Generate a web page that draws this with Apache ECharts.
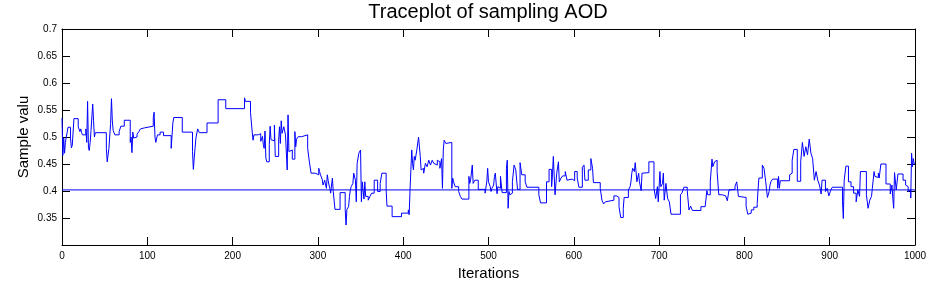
<!DOCTYPE html>
<html>
<head>
<meta charset="utf-8">
<script src="https://cdn.jsdelivr.net/npm/echarts@6/dist/echarts.min.js"></script>
<style>
html,body{margin:0;padding:0;background:#fff;overflow:hidden;}
#chart{width:941px;height:282px;}
</style>
</head>
<body>
<div id="chart"></div>
<script>
// Trace of sampled AOD values: [iteration, value] at each change point (held until next point)
const trace = [
[0,0.535],[1,0.466],[2,0.498],[3,0.47],[4,0.49],[5,0.5],[6,0.508],[7,0.518],[10,0.498],[11,0.48],[12,0.484],[14,0.534],[19,0.519],[21,0.51],[22,0.515],[23,0.508],[24,0.504],[28,0.515],[29,0.49],[30,0.566],[31,0.48],[32,0.475],[33,0.49],[34,0.512],[36,0.561],[37,0.53],[38,0.5],[39,0.508],[52,0.479],[53,0.454],[55,0.479],[57,0.525],[58,0.571],[59,0.53],[60,0.512],[62,0.504],[67,0.51],[69,0.52],[73,0.531],[80,0.49],[81,0.5],[82,0.471],[83,0.509],[84,0.498],[86,0.5],[88,0.505],[90,0.51],[92,0.515],[94,0.517],[97,0.52],[107,0.536],[108,0.546],[109,0.5],[110,0.49],[111,0.498],[112,0.504],[115,0.509],[119,0.5025],[128,0.479],[130,0.526],[131,0.536],[141,0.509],[153,0.473],[154,0.44],[155,0.461],[156,0.48],[157,0.498],[159,0.515],[161,0.508],[170,0.526],[183,0.569],[192,0.5525],[214,0.5725],[215,0.566],[221,0.545],[223,0.509],[224,0.494],[225,0.504],[230,0.506],[233,0.492],[235,0.501],[236,0.486],[237,0.479],[238,0.511],[239,0.461],[240,0.454],[243,0.486],[244,0.52],[245,0.495],[246,0.493],
[249,0.522],[250,0.464],[254,0.4945],[255,0.519],[256,0.488],[257,0.53],[258,0.507],[260,0.519],[262,0.504],[264,0.439],[265,0.541],[266,0.473],[268,0.476],[270,0.459],[273,0.51],[274,0.482],[275,0.496],[277,0.5006],[281,0.504],[288,0.479],[290,0.454],[292,0.433],[297,0.436],[299,0.43],[301,0.442],[302,0.436],[303,0.43],[305,0.422],[306,0.411],[308,0.42],[309,0.411],[310,0.405],[311,0.43],[312,0.42],[313,0.411],[314,0.405],[315,0.396],[316,0.411],[317,0.424],[318,0.399],[320,0.366],[326,0.397],[332,0.366],[333,0.337],[334,0.366],[336,0.371],[337,0.39],[338,0.402],[339,0.408],[341,0.414],[342,0.433],[344,0.42],[345,0.38],[346,0.451],[348,0.47],[350,0.476],[351,0.38],[352,0.417],[354,0.385],[355,0.417],[356,0.39],[359,0.383],[361,0.39],[363,0.396],[366,0.42],[370,0.399],[373,0.414],[375,0.433],[380,0.402],[381,0.372],[387,0.3525],[398,0.359],[406,0.365],[407,0.356],[408,0.402],[409,0.439],[410,0.476],[411,0.451],[412,0.439],[413,0.464],[414,0.457],[416,0.476],[418,0.5],[420,0.464],[421,0.439],[422,0.442],[424,0.433],[426,0.451],[428,0.445],[430,0.457],[432,0.448],[434,0.457],[436,0.451],[438,0.448],[440,0.457],[442,0.454],[443,0.442],[445,0.46],[446,0.405],[447,0.476],[448,0.494],[450,0.488],[451,0.49],[457,0.405],[458,0.424],[459,0.417],[461,0.408],[465,0.399],[467,0.39],[469,0.385],[477,0.427],[478,0.414],[479,0.42],[481,0.448],[482,0.414],[484,0.42],[488,0.403],[496,0.396],
[498,0.417],[499,0.442],[500,0.417],[502,0.408],[503,0.399],[504,0.405],[506,0.411],[507,0.427],[508,0.433],[510,0.395],[511,0.408],[513,0.405],[514,0.427],[515,0.43],[516,0.397],[521,0.442],[522,0.457],[523,0.368],[524,0.399],[525,0.393],[527,0.396],[528,0.417],[530,0.448],[532,0.439],[534,0.403],[537,0.4525],[539,0.43],[543,0.417],[545,0.407],[559,0.393],[561,0.378],[568,0.417],[571,0.44],[574,0.408],[575,0.43],[576,0.464],[578,0.393],[580,0.433],[582,0.454],[583,0.417],[585,0.424],[587,0.428],[590,0.436],[592,0.42],[593,0.417],[594,0.422],[598,0.419],[601,0.436],[604,0.424],[606,0.407],[610,0.444],[612,0.448],[613,0.42],[617,0.439],[620,0.46],[622,0.442],[623,0.4155],[631,0.405],[633,0.383],[635,0.376],[637,0.38],[639,0.383],[647,0.391],[650,0.388],[653,0.371],[655,0.351],[658,0.368],[659,0.388],[664,0.402],[666,0.408],[667,0.417],[668,0.433],[669,0.442],[671,0.436],[672,0.4525],[674,0.417],[676,0.433],[677,0.417],[679,0.4006],[680,0.433],[681,0.434],[688,0.454],[694,0.405],[696,0.386],[698,0.408],[699,0.38],[701,0.436],[702,0.408],[704,0.414],[705,0.433],[706,0.383],[708,0.414],[710,0.386],[712,0.38],[714,0.357],[725,0.393],[727,0.397],[729,0.407],[733,0.4006],[735,0.365],[737,0.372],[739,0.364],
[749,0.371],[754,0.37],[756,0.4006],[757,0.393],[760,0.417],[762,0.459],[763,0.445],[764,0.448],[765,0.454],[766,0.457],[768,0.436],[770,0.393],[774,0.391],[778,0.388],[780,0.382],[782,0.402],[784,0.403],[789,0.409],[791,0.417],[793,0.39],[794,0.388],[802,0.372],[804,0.357],[806,0.359],[808,0.365],[811,0.37],[815,0.377],[816,0.402],[817,0.424],[821,0.448],[823,0.442],[825,0.417],[827,0.388],[829,0.399],[830,0.411],[831,0.417],[833,0.422],[839,0.405],[840,0.427],[841,0.405],[842,0.419],[853,0.43],[855,0.433],[856,0.457],[858,0.477],[862,0.418],[866,0.454],[868,0.49],[870,0.464],[872,0.482],[874,0.467],[876,0.496],[878,0.47],[880,0.46],[882,0.42],[884,0.436],[886,0.42],[888,0.411],[890,0.3945],[891,0.42],[895,0.399],[897,0.405],[899,0.391],[901,0.4006],[903,0.407],[915,0.38],[916,0.349],[917,0.42],[919,0.446],[922,0.417],[925,0.408],[928,0.396],[931,0.38],[933,0.402],[935,0.39],[936,0.436],[943,0.393],[945,0.368],[947,0.383],[949,0.39],[950,0.405],[952,0.436],[953,0.427],[954,0.425],[957,0.433],[958,0.424],[960,0.45],[966,0.413],[971,0.3945],[973,0.411],[974,0.386],[975,0.368],[976,0.434],[978,0.402],[980,0.4315],[986,0.42],[989,0.411],[991,0.408],[992,0.399],[993,0.402],[995,0.387],[996,0.47],[997,0.445],[998,0.46],[999,0.45],[1000,0.45]
];
// Reference (true) AOD value drawn as a horizontal line
const refValue = 0.402;
const xRange = [0, 1000];
const yRange = [0.3, 0.7];
const xStep = 100;
const yStep = 0.05;
const titleText = 'Traceplot of sampling AOD';
const xName = 'Iterations';
const yName = 'Sample valu';

const FONT = '"Liberation Sans", Arial, Helvetica, sans-serif';
const chart = echarts.init(document.getElementById('chart'), null, {renderer: 'canvas', width: 941, height: 282});
const axisCommon = {
  type: 'value',
  axisLine: {show: true, onZero: false, lineStyle: {color: '#000', width: 1}},
  axisTick: {show: true, inside: true, length: 8, lineStyle: {color: '#000', width: 1}},
  splitLine: {show: false}
};
const option = {
  animation: false,
  backgroundColor: '#ffffff',
  textStyle: {fontFamily: FONT},
  graphic: [{
    type: 'text', x: 488, y: 2,
    style: {text: titleText, textAlign: 'center', textVerticalAlign: 'top', fill: '#000', font: '20px ' + FONT}
  }],
  grid: {left: 62, right: 26, top: 29, bottom: 37, containLabel: false, outerBoundsMode: 'none'},
  xAxis: [
    Object.assign({}, axisCommon, {
      position: 'bottom', min: xRange[0], max: xRange[1], interval: xStep,
      axisLabel: {color: '#000', fontSize: 10, margin: 6, fontFamily: FONT, formatter: v => String(v)},
      name: xName, nameLocation: 'middle', nameGap: 20,
      nameTextStyle: {color: '#000', fontSize: 15, fontFamily: FONT}
    }),
    Object.assign({}, axisCommon, {
      position: 'top', min: xRange[0], max: xRange[1], interval: xStep,
      axisLabel: {show: false}
    })
  ],
  yAxis: [
    Object.assign({}, axisCommon, {
      position: 'left', min: yRange[0], max: yRange[1], interval: yStep,
      axisLabel: {color: '#000', fontSize: 10, margin: 5, fontFamily: FONT, showMinLabel: false,
        formatter: v => String(+v.toFixed(2))},
      name: yName, nameLocation: 'middle', nameGap: 31, nameMoveOverlap: false,
      nameTextStyle: {color: '#000', fontSize: 15, fontFamily: FONT}
    }),
    Object.assign({}, axisCommon, {
      position: 'right', min: yRange[0], max: yRange[1], interval: yStep,
      axisLabel: {show: false}
    })
  ],
  series: [
    {
      type: 'line', data: trace, step: 'end', showSymbol: false, symbol: 'none',
      lineStyle: {color: '#0000ff', width: 1}, itemStyle: {color: '#0000ff'},
      silent: true
    },
    {
      type: 'line', data: [[xRange[0], refValue], [xRange[1], refValue]],
      showSymbol: false, symbol: 'none',
      lineStyle: {color: '#0000ff', width: 1}, silent: true
    }
  ]
};
chart.setOption(option);
</script>
</body>
</html>
